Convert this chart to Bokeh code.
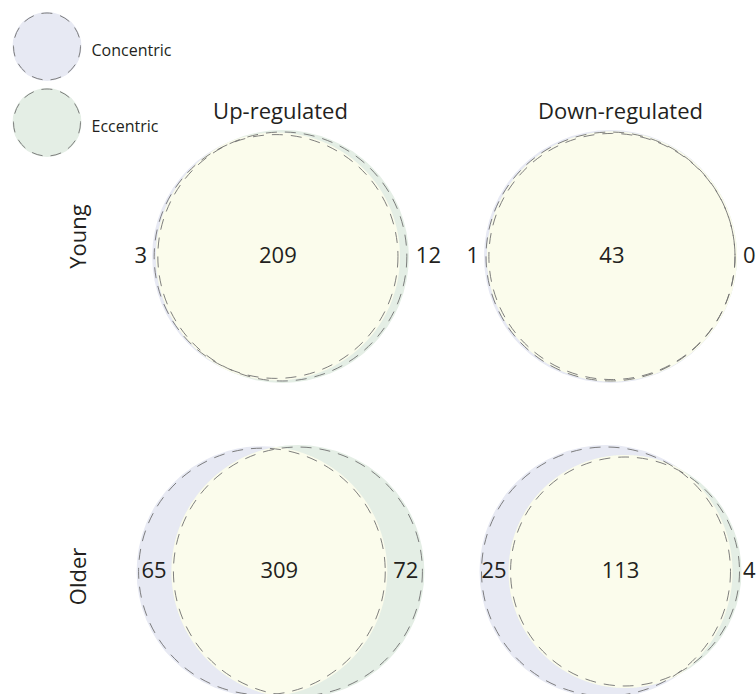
import numpy as np
from bokeh.plotting import figure
from bokeh.models import Range1d
from bokeh.core.properties import value
from bokeh.embed import file_html
from bokeh.resources import INLINE

# ---- data ----
col_titles = ["Up-regulated", "Down-regulated"]
row_titles = ["Young", "Older"]
legend_labels = ["Concentric", "Eccentric"]
# panels in order: Young/Up, Young/Down, Older/Up, Older/Down
panel_row = [0, 0, 1, 1]
panel_col = [0, 1, 0, 1]
concentric_only = [3, 1, 65, 25]
both = [209, 43, 309, 113]
eccentric_only = [12, 0, 72, 4]

# ---- style / layout ----
W, H = 756, 694
col_cx = [280, 610]
row_cy = [256, 571]
R_MAX = 126.5
C_CONC = "#e7e9f3"
C_ECC = "#e4eee5"
C_BOTH = "#fbfcec"
EDGE = "#707070"
DASH = "11 8"
INSET = 2
FONT = value("Open Sans")
TXT = "#231f20"

p = figure(width=W, height=H, x_range=Range1d(0, W), y_range=Range1d(H, 0),
           output_backend="svg", toolbar_location=None, min_border=0,
           x_axis_type=None, y_axis_type=None)
p.grid.visible = False
p.outline_line_color = None
p.background_fill_color = "white"


def lens_area(r1, r2, d):
    if d >= r1 + r2:
        return 0.0
    if d <= abs(r1 - r2):
        return np.pi * min(r1, r2) ** 2
    a1 = r1 ** 2 * np.arccos((d * d + r1 * r1 - r2 * r2) / (2 * d * r1))
    a2 = r2 ** 2 * np.arccos((d * d + r2 * r2 - r1 * r1) / (2 * d * r2))
    k = 0.5 * np.sqrt((-d + r1 + r2) * (d + r1 - r2) * (d - r1 + r2) * (d + r1 + r2))
    return a1 + a2 - k


def est_w(s):
    return 0.57 * 22 * len(s)


for i in range(4):
    nc = concentric_only[i] + both[i]
    ne = eccentric_only[i] + both[i]
    k = np.pi * R_MAX ** 2 / max(nc, ne)
    rc = np.sqrt(nc * k / np.pi)
    re = np.sqrt(ne * k / np.pi)
    target = both[i] * k
    lo, hi = 0.0, rc + re
    for _ in range(80):
        mid = 0.5 * (lo + hi)
        if lens_area(rc, re, mid) >= target - 1e-9:
            lo = mid
        else:
            hi = mid
    d = lo
    cx, cy = col_cx[panel_col[i]], row_cy[panel_row[i]]
    xc = cx - (d + re - rc) / 2
    xe = xc + d

    # fills
    p.circle(x=[xc], y=[cy], radius=rc, fill_color=C_CONC, line_color=None)
    p.circle(x=[xe], y=[cy], radius=re, fill_color=C_ECC, line_color=None)
    t = np.linspace(0, 2 * np.pi, 1440, endpoint=False)
    pc_x, pc_y = xc + rc * np.cos(t), cy + rc * np.sin(t)
    pe_x, pe_y = xe + re * np.cos(t), cy + re * np.sin(t)
    in_e = (pc_x - xe) ** 2 + (pc_y - cy) ** 2 <= re ** 2 + 1e-6
    in_c = (pe_x - xc) ** 2 + (pe_y - cy) ** 2 <= rc ** 2 + 1e-6
    lx = np.concatenate([pc_x[in_e], pe_x[in_c]])
    ly = np.concatenate([pc_y[in_e], pe_y[in_c]])
    mx, my = lx.mean(), ly.mean()
    order = np.argsort(np.arctan2(ly - my, lx - mx))
    p.patch(lx[order], ly[order], fill_color=C_BOTH, line_color=None)
    # dashed outlines (slightly inset from the fill edge)
    p.circle(x=[xc], y=[cy], radius=rc - INSET, fill_color=None, line_color=EDGE,
             line_width=0.9, line_dash=DASH)
    p.circle(x=[xe], y=[cy], radius=re - INSET, fill_color=None, line_color=EDGE,
             line_width=0.9, line_dash=DASH)

    # labels
    lens_l = max(xc - rc, xe - re)
    lens_r = min(xc + rc, xe + re)
    ty = cy - 2
    p.text(x=[(lens_l + lens_r) / 2], y=[ty], text=[str(both[i])],
           text_font=FONT, text_font_size="22px", text_color=TXT,
           text_align="center", text_baseline="middle")
    s = str(concentric_only[i])
    wl = lens_l - (xc - rc)
    if wl >= est_w(s) + 2:
        p.text(x=[(xc - rc + lens_l) / 2], y=[ty], text=[s], text_font=FONT,
               text_font_size="22px", text_color=TXT, text_align="center",
               text_baseline="middle")
    else:
        p.text(x=[xc - rc - 5], y=[ty], text=[s], text_font=FONT,
               text_font_size="22px", text_color=TXT, text_align="right",
               text_baseline="middle")
    s = str(eccentric_only[i])
    wr = (xe + re) - lens_r
    if wr >= est_w(s) + 2:
        p.text(x=[(lens_r + xe + re) / 2], y=[ty], text=[s], text_font=FONT,
               text_font_size="22px", text_color=TXT, text_align="center",
               text_baseline="middle")
    else:
        xr = min(xe + re + 7, W - est_w(s) - 1)
        p.text(x=[xr], y=[ty], text=[s], text_font=FONT,
               text_font_size="22px", text_color=TXT, text_align="left",
               text_baseline="middle")

# column and row titles
p.text(x=[col_cx[0], col_cx[1] + 10], y=[109, 109], text=col_titles,
       text_font=FONT, text_font_size="22px", text_color=TXT,
       text_align="center", text_baseline="middle")
p.text(x=[76, 76], y=[236, 576], text=row_titles, angle=np.pi / 2,
       text_font=FONT, text_font_size="22px", text_color=TXT,
       text_align="center", text_baseline="middle")

# legend
leg_y = [46, 122]
p.circle(x=[46.5, 46.5], y=leg_y, radius=34.5, fill_color=[C_CONC, C_ECC],
         line_color=None)
p.circle(x=[46.5, 46.5], y=leg_y, radius=33.5, fill_color=None,
         line_color=EDGE, line_width=0.9, line_dash=DASH)
p.text(x=[91, 91], y=[y + 3 for y in leg_y], text=legend_labels, text_font=FONT,
       text_font_size="16px", text_color=TXT, text_align="left",
       text_baseline="middle")

open("out.html", "w").write(file_html(p, INLINE))
